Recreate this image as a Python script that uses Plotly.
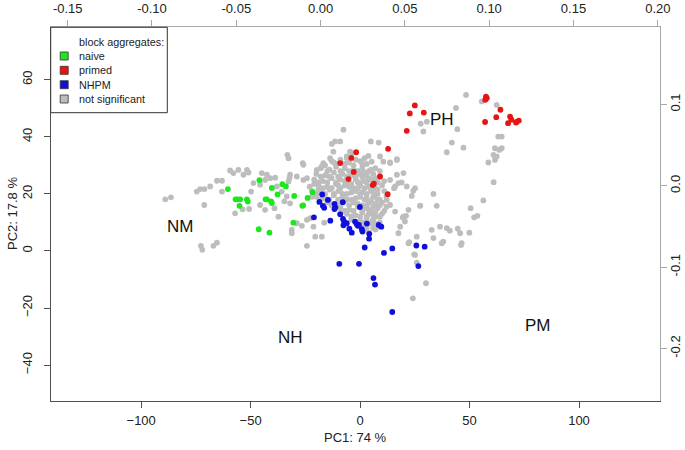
import plotly.graph_objects as go

# ---------------- data (PC1, PC2 scores) ----------------
naive_pc1 = [-60.4, -46.0, -56.9, -56.0, -54.8, -55.1, -51.7, -51.3, -40.3, -35.5, -33.9, -37.7,
             -42.6, -43.2, -40.7, -40.3, -30.1, -24.0, -21.7, -26.0, -26.4, -30.5, -46.3, -41.4]
naive_pc2 = [21.7, 24.8, 18.1, 18.1, 18.1, 15.8, 18.1, 17.3, 22.1, 23.4, 22.6, 19.8,
             18.1, 18.1, 17.4, 16.8, 19.3, 18.6, 20.6, 16.0, 15.8, 9.9, 7.6, 6.4]

primed_pc1 = [57.5, 57.9, 57.2, 64.1, 62.2, 57.1, 68.5, 69.1, 67.6, 71.5, 72.5, 71.2, 25.0,
              22.7, 29.1, 21.3, 12.8, 9.1, 12.6, -1.8, -4.0, -9.1, -2.9, -5.3, 6.3, 5.8]
primed_pc2 = [54.1, 53.6, 53.0, 49.5, 46.9, 45.2, 47.1, 46.0, 44.8, 45.2, 45.7, 45.0, 51.0,
              48.2, 48.5, 42.1, 35.8, 26.1, 19.9, 34.6, 32.6, 30.8, 27.7, 25.2, 23.6, 23.1]

nhpm_pc1 = [-17.3, -14.7, -18.6, -17.0, -16.4, -11.7, -11.3, -11.7, -7.9, -0.1, -21.1, -13.6,
            -9.1, -7.8, -7.3, -7.6, -6.1, -4.9, -3.8, -2.3, -1.5, -0.5, -1.0, 0.8, 1.1, 3.1,
            8.5, 9.7, 4.2, 4.1, 2.1, 14.7, 10.9, 25.7, 29.5, 26.6, -9.5, -0.5, 6.1, 6.8, 14.7]
nhpm_pc2 = [19.8, 17.9, 17.2, 15.8, 15.1, 16.5, 15.3, 14.7, 17.1, 15.4, 11.8, 10.6,
            12.9, 11.2, 10.3, 9.0, 9.7, 7.8, 6.4, 10.3, 9.4, 9.1, 8.8, 7.6, 6.8, 9.6,
            9.1, 8.5, 6.0, 4.3, 1.2, 0.9, -0.7, 1.9, 1.5, -5.3, -4.5, -4.5, -9.5, -11.8, -21.4]

# not significant: outer scattered points (PC1, PC2)
ns_outer = [
    (-89.0, 18.1), (-86.4, 18.8), (-74.6, 20.8), (-73.1, 21.7), (-71.1, 21.7), (-68.5, 22.6),
    (-65.4, 24.6), (-63.1, 24.6), (-63.1, 20.8), (-59.4, 28.2), (-57.9, 27.3), (-55.6, 28.4),
    (-53.3, 26.7), (-51.7, 28.4), (-51.0, 27.5), (-71.2, 16.1), (-57.1, 13.2), (-53.7, 14.6),
    (-50.7, 14.7), (-49.8, 20.8), (-48.7, 23.8), (-45.7, 23.2), (-43.4, 24.9), (-41.1, 25.5),
    (-38.8, 25.7), (-44.9, 27.3), (-42.6, 26.7), (-32.0, 26.7), (-32.3, 25.5), (-32.7, 24.3),
    (-28.9, 26.1), (-25.9, 24.9), (-24.3, 25.5), (-38.0, 22.6), (-35.8, 20.8), (-33.5, 19.1),
    (-32.0, 16.7), (-39.1, 15.0), (-37.3, 12.0), (-45.7, 16.1), (-43.4, 14.4), (-34.6, 17.4),
    (-31.2, 7.4), (-31.2, 6.2), (-28.9, 9.7), (-26.6, 8.8), (-24.3, 10.9), (-22.8, 11.5),
    (-72.7, 1.8), (-72.1, 0.4), (-67.0, 1.8), (-65.4, 2.9), (-20.5, 5.0), (-17.5, 5.0),
    (-24.3, 1.8), (-16.4, 9.9), (-21.3, 8.5),
    (16.0, 22.6), (17.5, 23.8), (19.0, 24.0), (21.3, 22.6), (25.1, 22.0), (13.7, 24.9),
    (16.8, 26.7), (19.8, 27.3), (23.6, 19.3), (27.4, 15.8), (22.1, 14.4), (19.8, 12.0),
    (20.5, 10.3), (18.3, 8.5), (17.5, 6.2), (33.5, 20.0), (35.0, 15.8), (32.7, 7.4),
    (36.5, 8.5), (39.6, 8.0), (38.0, 3.3), (37.3, 2.7), (22.1, 2.7), (25.9, 5.0),
    (25.1, -1.4), (30.1, -11.3), (24.1, -16.6), (39.6, 34.6), (28.9, 41.9), (27.7, 44.6),
    (12.2, 17.9), (13.7, 16.1), (16.0, 13.8), (48.4, 54.7), (43.8, 50.1), (55.6, 52.4),
    (62.4, 51.2), (30.5, 45.3), (44.4, 42.7), (41.9, 38.0), (47.2, 36.2), (63.1, 40.1),
    (64.7, 40.1), (61.6, 36.0), (63.6, 35.4), (64.7, 36.0), (60.9, 33.7), (62.4, 33.1),
    (61.6, 31.9), (58.6, 31.0), (61.0, 24.1), (56.3, 17.7), (50.5, 15.0), (52.1, 11.8),
    (53.6, 12.3), (45.7, 6.2), (46.4, 2.7), (46.1, 2.1), (49.9, 6.4), (41.0, 7.1),
    (44.6, 7.8), (33.5, 4.5), (22.5, 3.1), (24.7, -1.2), (25.9, -4.1), (27.5, 15.9),
    (24.3, 21.1), (15.5, 22.0), (16.8, 31.9), (13.7, 31.0), (19.5, 11.7), (21.0, 12.3),
    (-7.6, 42.5), (-11.4, 38.4), (-12.9, 37.5), (-9.1, 38.4), (-4.6, 34.8), (-6.1, 33.1),
    (-3.8, 34.3), (-12.2, 34.8), (-13.7, 32.5), (4.9, 38.4), (8.5, 38.0), (3.8, 33.3),
    (5.3, 31.3), (9.1, 33.1), (10.6, 31.3), (13.7, 30.8), (16.8, 32.2), (-33.2, 33.7),
    (-32.7, 32.5), (-26.2, 30.8), (-25.9, 30.2), (-16.8, 30.8), (-17.5, 29.6), (-19.8, 28.4),
]

# not significant: dense central cloud (PC1, PC2)
ns_core = [
    (-13, 31.5), (-9, 32), (-5, 31), (0, 31.5), (3, 30.5), (-16, 30),
    (-18, 29), (-14, 28.5), (-11, 29.5), (-7, 29), (-3, 28.5), (1, 29), (4, 28), (7, 29),
    (-20, 27), (-16, 26.5), (-12, 27.5), (-8, 27), (-4, 26.5), (0, 27), (3, 26.5), (6, 27), (9, 26),
    (-21, 25), (-17, 24.5), (-13, 25.5), (-9, 25), (-6, 24), (-2, 25), (2, 24.5), (5, 25), (8, 24),
    (-19, 23), (-15, 22.5), (-11, 23.5), (-7, 23), (-3, 22), (0, 23), (4, 22.5), (7, 22), (10, 23),
    (-22, 21), (-18, 20.5), (-14, 21.5), (-10, 21), (-6, 20), (-2, 21), (1, 20.5), (5, 21), (8, 20),
    (-20, 19), (-16, 18.5), (-12, 19.5), (-8, 19), (-4, 18), (0, 19), (3, 18.5), (6, 19), (9, 18),
    (-15, 17), (-11, 16.5), (-7, 17.5), (-3, 17), (1, 16), (4, 17), (7, 16.5), (10, 17),
    (-9, 15), (-5, 14.5), (-1, 15.5), (2, 15), (5, 14), (8, 15), (11, 14),
    (-6, 13), (-2, 12.5), (1, 13.5), (4, 13), (7, 12), (10, 13),
    (-4, 11), (0, 10.5), (3, 11.5), (6, 11), (9, 10),
    (-1, 9), (2, 8.5), (5, 9.5), (8, 8.5), (1, 7), (4, 6.5), (7, 7.5),
    (-11, 30.5), (-7, 30.5), (-3, 30), (1, 30.5), (-15, 28), (-9, 28), (-5, 28), (-1, 28),
    (2, 27.5), (5, 28.5), (-18, 26), (-14, 26), (-10, 26), (-6, 26), (-2, 26), (1, 26),
    (4, 25.5), (7, 25.5), (-19, 24), (-15, 24), (-11, 24), (-7, 24.5), (-4, 23.5), (0, 24),
    (3, 24), (6, 23.5), (-17, 22), (-13, 22), (-9, 22), (-5, 22.5), (-1, 22), (2, 22),
    (5, 22), (8, 21.5), (-20, 20), (-16, 20), (-12, 20), (-8, 20), (-4, 20.5), (0, 20),
    (3, 20), (7, 20), (-18, 18), (-14, 18), (-10, 18), (-6, 18), (-2, 18.5), (2, 18),
    (5, 17.5), (8, 18), (-13, 16), (-9, 16), (-5, 16), (-1, 16.5), (3, 16), (6, 15.5),
    (9, 16), (-7, 14), (-3, 14), (1, 14), (4, 14.5), (7, 13.5), (-4, 12), (0, 12),
    (3, 12), (6, 12.5), (9, 12), (-2, 10), (2, 10), (5, 10), (7, 9.5), (3, 8), (6, 8),
    (-23, 22.5), (-21, 23.5), (-19, 21.5), (-22, 19), (-12, 31), (-6, 32.5), (-2, 32),
    (2, 32.5), (9, 28), (11, 24.5), (11, 21), (12, 19), (12, 15.5), (-10, 23), (-1, 24),
]

region_labels = ["NM", "PH", "NH", "PM"]
region_pc1 = [-82.2, 37.6, -32.0, 81.3]
region_pc2 = [8.4, 46.0, -30.5, -26.0]

x_title = "PC1: 74 %"
y_title = "PC2: 17.8 %"
legend_title = "block aggregates:"
legend_names = ["naive", "primed", "NHPM", "not significant"]

x_ticks = [-100, -50, 0, 50, 100]
y_ticks = [-40, -20, 0, 20, 40, 60]
x2_ticks = [-0.15, -0.10, -0.05, 0.00, 0.05, 0.10, 0.15, 0.20]
y2_ticks = [-0.2, -0.1, 0.0, 0.1]

# ---------------- styling ----------------
FONT = "Liberation Sans, Arial, Helvetica, sans-serif"
C_NAIVE = "#1ee61e"
C_PRIMED = "#e81414"
C_NHPM = "#1010d8"
C_NS = "#bdbdbd"
MS = 5.8
DARK = "#505050"
LIGHT = "#a8a8a8"

W, H = 685, 450
L, R, T, B = 51, 25, 27, 49
PW, PH_ = W - L - R, H - T - B


def px(xp):  # pixel -> paper x
    return (xp - L) / PW


def py(yp):  # pixel -> paper y
    return (H - B - yp) / PH_


fig = go.Figure()

ns_all = ns_outer + ns_core
fig.add_trace(go.Scatter(x=[p[0] for p in ns_all], y=[p[1] for p in ns_all], mode="markers",
                         marker=dict(color=C_NS, size=MS, line=dict(width=0)), hoverinfo="skip"))
fig.add_trace(go.Scatter(x=naive_pc1, y=naive_pc2, mode="markers",
                         marker=dict(color=C_NAIVE, size=MS, line=dict(width=0)), hoverinfo="skip"))
fig.add_trace(go.Scatter(x=primed_pc1, y=primed_pc2, mode="markers",
                         marker=dict(color=C_PRIMED, size=MS, line=dict(width=0)), hoverinfo="skip"))
fig.add_trace(go.Scatter(x=nhpm_pc1, y=nhpm_pc2, mode="markers",
                         marker=dict(color=C_NHPM, size=MS, line=dict(width=0)), hoverinfo="skip"))
# invisible trace to activate the secondary (loadings) axes
fig.add_trace(go.Scatter(x=[0], y=[0], xaxis="x2", yaxis="y2", mode="markers",
                         marker=dict(opacity=0), hoverinfo="skip"))

for lab, xv, yv in zip(region_labels, region_pc1, region_pc2):
    fig.add_annotation(x=xv, y=yv, text=lab, showarrow=False,
                       font=dict(size=17, color="#111", family=FONT))

tickfont = dict(size=13, color="#222", family=FONT)
common = dict(ticks="outside", ticklen=6, showgrid=False, zeroline=False, tickfont=tickfont,
              showline=True, linewidth=1, automargin=False)
fig.update_layout(
    width=W, height=H, margin=dict(l=L, r=R, t=T, b=B, autoexpand=False),
    paper_bgcolor="white", plot_bgcolor="white", showlegend=False,
    font=dict(family=FONT),
    xaxis=dict(range=[-141.2, 137.0], tickvals=x_ticks, tickcolor=DARK, linecolor=DARK,
               ticklabelstandoff=1, **common),
    yaxis=dict(range=[-52.6, 78.5], tickvals=y_ticks, tickcolor=DARK, linecolor=DARK,
               tickangle=-90, ticklabelstandoff=7, **common),
    xaxis2=dict(range=[-0.1599, 0.2013], tickvals=x2_ticks, ticktext=[f"{v:.2f}" for v in x2_ticks],
                overlaying="x", side="top", anchor="y", tickcolor=LIGHT, linecolor=LIGHT,
                ticklabelstandoff=2, **common),
    yaxis2=dict(range=[-0.2645, 0.1952], tickvals=y2_ticks, ticktext=[f"{v:.1f}" for v in y2_ticks],
                overlaying="y", side="right", anchor="x", tickcolor=LIGHT, linecolor=LIGHT,
                tickangle=-90, ticklabelstandoff=-3, **common),
)

# axis titles
fig.add_annotation(xref="paper", yref="paper", x=px(355.4), y=py(437), text=x_title,
                   showarrow=False, xanchor="center", yanchor="middle",
                   font=dict(size=13, color="#222", family=FONT))
fig.add_annotation(xref="paper", yref="paper", x=px(12), y=py(214), text=y_title, textangle=-90,
                   showarrow=False, xanchor="center", yanchor="middle",
                   font=dict(size=13, color="#222", family=FONT))

# ---------------- legend box (drawn manually, R style) ----------------
fig.add_shape(type="rect", xref="paper", yref="paper", x0=px(50.7), x1=px(167.3),
              y0=py(112.7), y1=py(27.3), line=dict(color="#333", width=1), fillcolor="white")
leg_colors = [C_NAIVE, C_PRIMED, C_NHPM, C_NS]
row_y = [41.7, 56.0, 70.3, 84.7, 99.0]
fig.add_annotation(xref="paper", yref="paper", x=px(76.5), y=py(row_y[0]), text=legend_title,
                   showarrow=False, xanchor="left", yanchor="middle",
                   font=dict(size=10.8, color="#222", family=FONT))
for name, col, yr in zip(legend_names, leg_colors, row_y[1:]):
    fig.add_shape(type="rect", xref="paper", yref="paper", x0=px(60.2), x1=px(68.2),
                  y0=py(yr + 4), y1=py(yr - 4), line=dict(color="#333", width=0.8), fillcolor=col)
    fig.add_annotation(xref="paper", yref="paper", x=px(76.5), y=py(yr), text=name,
                       showarrow=False, xanchor="left", yanchor="middle",
                       font=dict(size=10.8, color="#222", family=FONT))

# remove the browser's default 8 px body margin so the figure sits at the page origin
fig.write_html("out.html", config={"displayModeBar": False},
               post_script="document.body.style.margin='0px';")
